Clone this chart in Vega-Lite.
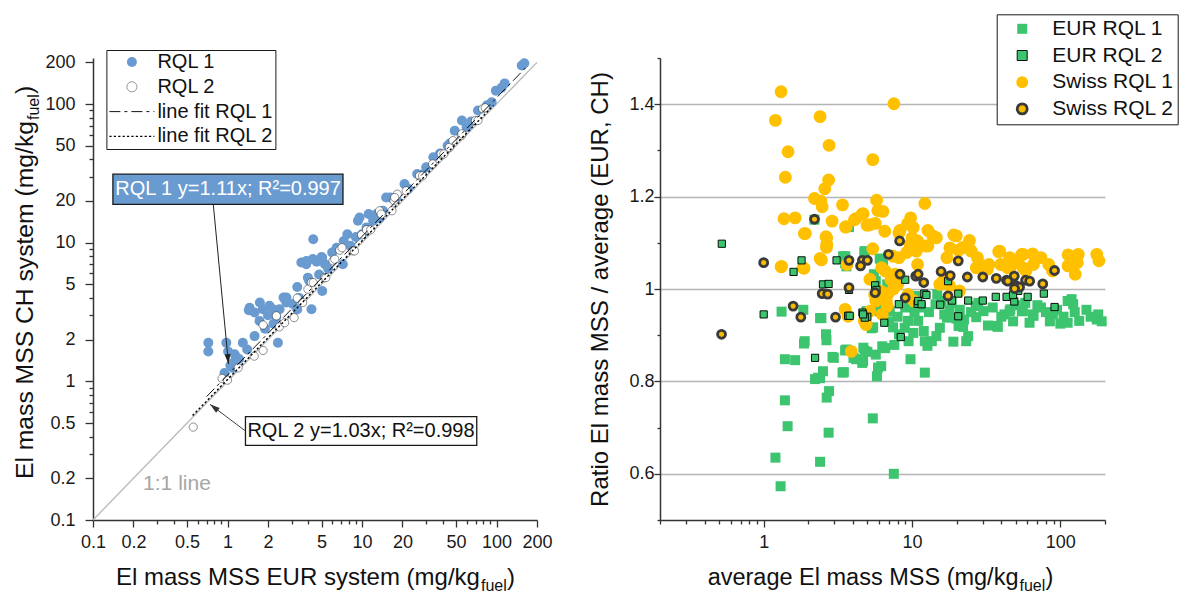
{
  "$schema": "https://vega.github.io/schema/vega-lite/v6.json",
  "autosize": {"type": "pad"},
  "padding": {"left": 13, "top": 13, "right": 0, "bottom": 0},
  "config": {
    "font": "Liberation Sans",
    "view": {"stroke": null},
    "axis": {
      "domainColor": "#333333", "domainWidth": 1.5,
      "tickColor": "#333333", "tickWidth": 1.3,
      "labelColor": "#1a1a1a", "labelFontSize": 18, "labelFont": "Liberation Sans",
      "titleFont": "Liberation Sans", "titleFontWeight": "normal", "titleColor": "#111111", "titleFontSize": 24,
      "labelFlush": false, "labelOverlap": false, "grid": false, "format": "~g"
    },
    "legend": {"labelFont": "Liberation Sans", "labelColor": "#111111", "symbolSize": 100},
    "text": {"font": "Liberation Sans"}
  },
  "datasets": {
    "left_pts": [
      {"x":0.72,"y":1.90,"series":"RQL 1"},{"x":0.72,"y":1.64,"series":"RQL 1"},{"x":0.98,"y":1.90,"series":"RQL 1"},{"x":1.01,"y":1.64,"series":"RQL 1"},
      {"x":1.13,"y":1.57,"series":"RQL 1"},{"x":1.16,"y":1.50,"series":"RQL 1"},{"x":1.30,"y":1.90,"series":"RQL 1"},{"x":1.59,"y":2.12,"series":"RQL 1"},
      {"x":1.73,"y":2.73,"series":"RQL 1"},{"x":2.37,"y":1.90,"series":"RQL 1"},{"x":1.05,"y":1.30,"series":"RQL 1"},{"x":1.12,"y":1.38,"series":"RQL 1"},
      {"x":1.22,"y":1.45,"series":"RQL 1"},{"x":1.40,"y":1.70,"series":"RQL 1"},{"x":0.95,"y":1.15,"series":"RQL 1"},{"x":1.10,"y":1.25,"series":"RQL 1"},
      {"x":1.44,"y":3.26,"series":"RQL 1"},{"x":1.46,"y":3.39,"series":"RQL 1"},{"x":1.59,"y":3.14,"series":"RQL 1"},{"x":1.74,"y":3.70,"series":"RQL 1"},
      {"x":1.83,"y":3.31,"series":"RQL 1"},{"x":2.05,"y":3.51,"series":"RQL 1"},{"x":2.20,"y":3.30,"series":"RQL 1"},{"x":2.44,"y":3.31,"series":"RQL 1"},
      {"x":2.74,"y":3.70,"series":"RQL 1"},{"x":3.06,"y":3.61,"series":"RQL 1"},{"x":2.61,"y":4.02,"series":"RQL 1"},{"x":2.74,"y":4.02,"series":"RQL 1"},
      {"x":2.00,"y":3.00,"series":"RQL 1"},{"x":2.30,"y":2.90,"series":"RQL 1"},{"x":1.90,"y":2.40,"series":"RQL 1"},{"x":2.20,"y":2.60,"series":"RQL 1"},
      {"x":3.30,"y":3.30,"series":"RQL 1"},{"x":4.21,"y":3.31,"series":"RQL 1"},{"x":3.40,"y":4.00,"series":"RQL 1"},{"x":5.06,"y":4.49,"series":"RQL 1"},
      {"x":3.54,"y":7.20,"series":"RQL 1"},{"x":3.86,"y":7.38,"series":"RQL 1"},{"x":4.31,"y":7.62,"series":"RQL 1"},{"x":4.60,"y":7.30,"series":"RQL 1"},
      {"x":5.00,"y":7.90,"series":"RQL 1"},{"x":5.30,"y":7.00,"series":"RQL 1"},{"x":7.20,"y":7.00,"series":"RQL 1"},{"x":4.05,"y":5.31,"series":"RQL 1"},
      {"x":4.80,"y":5.90,"series":"RQL 1"},{"x":4.34,"y":10.6,"series":"RQL 1"},{"x":3.85,"y":7.00,"series":"RQL 1"},{"x":3.96,"y":5.60,"series":"RQL 1"},
      {"x":5.06,"y":7.80,"series":"RQL 1"},{"x":6.47,"y":9.20,"series":"RQL 1"},{"x":7.31,"y":10.3,"series":"RQL 1"},{"x":7.78,"y":11.5,"series":"RQL 1"},
      {"x":5.60,"y":6.50,"series":"RQL 1"},{"x":6.00,"y":8.50,"series":"RQL 1"},{"x":3.30,"y":4.80,"series":"RQL 1"},
      {"x":9.60,"y":15.2,"series":"RQL 1"},{"x":10.8,"y":12.9,"series":"RQL 1"},{"x":12.1,"y":14.4,"series":"RQL 1"},{"x":12.8,"y":16.1,"series":"RQL 1"},
      {"x":14.3,"y":17.0,"series":"RQL 1"},{"x":15.1,"y":21.2,"series":"RQL 1"},{"x":11.2,"y":16.1,"series":"RQL 1"},{"x":9.33,"y":14.4,"series":"RQL 1"},
      {"x":9.00,"y":11.0,"series":"RQL 1"},{"x":10.0,"y":11.5,"series":"RQL 1"},{"x":8.20,"y":9.50,"series":"RQL 1"},{"x":13.5,"y":15.0,"series":"RQL 1"},
      {"x":16.2,"y":21.2,"series":"RQL 1"},{"x":18.0,"y":21.0,"series":"RQL 1"},{"x":20.7,"y":26.5,"series":"RQL 1"},{"x":22.0,"y":24.5,"series":"RQL 1"},
      {"x":25.7,"y":31.3,"series":"RQL 1"},{"x":28.0,"y":31.0,"series":"RQL 1"},{"x":33.9,"y":41.3,"series":"RQL 1"},{"x":30.0,"y":35.0,"series":"RQL 1"},
      {"x":38.0,"y":44.0,"series":"RQL 1"},{"x":43.3,"y":50.1,"series":"RQL 1"},{"x":48.9,"y":64.3,"series":"RQL 1"},{"x":45.0,"y":52.0,"series":"RQL 1"},
      {"x":55.3,"y":76.1,"series":"RQL 1"},{"x":60.0,"y":68.0,"series":"RQL 1"},{"x":72.8,"y":89.8,"series":"RQL 1"},{"x":65.0,"y":75.0,"series":"RQL 1"},
      {"x":99.0,"y":125,"series":"RQL 1"},{"x":109,"y":131,"series":"RQL 1"},{"x":115,"y":141,"series":"RQL 1"},{"x":154,"y":190,"series":"RQL 1"},
      {"x":161,"y":197,"series":"RQL 1"},{"x":85.0,"y":98.0,"series":"RQL 1"},{"x":92.0,"y":103,"series":"RQL 1"},
      {"x":0.556,"y":0.468,"series":"RQL 2"},{"x":0.91,"y":1.05,"series":"RQL 2"},{"x":1.58,"y":1.52,"series":"RQL 2"},{"x":1.84,"y":1.67,"series":"RQL 2"},
      {"x":1.84,"y":2.55,"series":"RQL 2"},{"x":2.43,"y":2.47,"series":"RQL 2"},{"x":2.66,"y":2.65,"series":"RQL 2"},{"x":3.13,"y":2.88,"series":"RQL 2"},
      {"x":3.30,"y":3.98,"series":"RQL 2"},{"x":3.62,"y":3.70,"series":"RQL 2"},{"x":2.31,"y":2.97,"series":"RQL 2"},{"x":3.96,"y":4.62,"series":"RQL 2"},
      {"x":4.20,"y":5.16,"series":"RQL 2"},{"x":5.27,"y":5.60,"series":"RQL 2"},{"x":4.34,"y":5.16,"series":"RQL 2"},{"x":6.08,"y":7.40,"series":"RQL 2"},
      {"x":6.27,"y":7.60,"series":"RQL 2"},{"x":6.83,"y":8.83,"series":"RQL 2"},{"x":7.10,"y":9.20,"series":"RQL 2"},{"x":8.55,"y":8.73,"series":"RQL 2"},
      {"x":8.79,"y":8.73,"series":"RQL 2"},{"x":9.93,"y":11.4,"series":"RQL 2"},{"x":10.8,"y":12.4,"series":"RQL 2"},{"x":11.6,"y":12.4,"series":"RQL 2"},
      {"x":13.5,"y":17.0,"series":"RQL 2"},{"x":13.9,"y":16.1,"series":"RQL 2"},{"x":16.7,"y":17.0,"series":"RQL 2"},{"x":17.3,"y":20.1,"series":"RQL 2"},
      {"x":18.3,"y":22.4,"series":"RQL 2"},{"x":17.5,"y":21.2,"series":"RQL 2"},{"x":21.3,"y":23.7,"series":"RQL 2"},{"x":26.8,"y":30.4,"series":"RQL 2"},
      {"x":28.2,"y":30.4,"series":"RQL 2"},{"x":33.5,"y":37.0,"series":"RQL 2"},{"x":38.8,"y":43.7,"series":"RQL 2"},{"x":40.6,"y":43.7,"series":"RQL 2"},
      {"x":44.6,"y":48.7,"series":"RQL 2"},{"x":47.4,"y":54.5,"series":"RQL 2"},{"x":54.7,"y":59.2,"series":"RQL 2"},{"x":55.3,"y":61.0,"series":"RQL 2"},
      {"x":69.8,"y":76.1,"series":"RQL 2"},{"x":72.8,"y":76.1,"series":"RQL 2"},{"x":79.0,"y":92.5,"series":"RQL 2"},{"x":82.4,"y":94.0,"series":"RQL 2"},
      {"x":5.38,"y":5.60,"series":"RQL 2"},{"x":1.20,"y":1.25,"series":"RQL 2"},{"x":1.00,"y":1.02,"series":"RQL 2"}
    ],
    "fits": [
      {"x":0.7,"y":0.777,"series":"line fit RQL 1"},{"x":165,"y":183.15,"series":"line fit RQL 1"},
      {"x":0.55,"y":0.5665,"series":"line fit RQL 2"},{"x":95,"y":97.85,"series":"line fit RQL 2"}
    ],
    "ratios": [
      {"avg":1.30,"ratio":0.573,"group":"EUR RQL 1"},{"avg":1.20,"ratio":0.635,"group":"EUR RQL 1"},{"avg":2.40,"ratio":0.626,"group":"EUR RQL 1"},{"avg":7.54,"ratio":0.600,"group":"EUR RQL 1"},
      {"avg":1.45,"ratio":0.703,"group":"EUR RQL 1"},{"avg":1.39,"ratio":0.759,"group":"EUR RQL 1"},{"avg":2.74,"ratio":0.689,"group":"EUR RQL 1"},{"avg":2.66,"ratio":0.765,"group":"EUR RQL 1"},
      {"avg":2.76,"ratio":0.779,"group":"EUR RQL 1"},{"avg":5.44,"ratio":0.720,"group":"EUR RQL 1"},{"avg":2.22,"ratio":0.805,"group":"EUR RQL 1"},{"avg":2.40,"ratio":0.807,"group":"EUR RQL 1"},
      {"avg":2.51,"ratio":0.822,"group":"EUR RQL 1"},{"avg":3.40,"ratio":0.819,"group":"EUR RQL 1"},{"avg":1.39,"ratio":0.848,"group":"EUR RQL 1"},{"avg":1.63,"ratio":0.846,"group":"EUR RQL 1"},
      {"avg":1.87,"ratio":0.882,"group":"EUR RQL 1"},{"avg":2.91,"ratio":0.853,"group":"EUR RQL 1"},{"avg":1.32,"ratio":0.951,"group":"EUR RQL 1"},{"avg":2.40,"ratio":0.937,"group":"EUR RQL 1"},
      {"avg":2.63,"ratio":0.902,"group":"EUR RQL 1"},{"avg":2.65,"ratio":0.889,"group":"EUR RQL 1"},{"avg":3.54,"ratio":0.867,"group":"EUR RQL 1"},{"avg":4.03,"ratio":0.851,"group":"EUR RQL 1"},
      {"avg":4.62,"ratio":0.840,"group":"EUR RQL 1"},{"avg":5.0,"ratio":0.864,"group":"EUR RQL 1"},{"avg":5.7,"ratio":0.858,"group":"EUR RQL 1"},{"avg":5.9,"ratio":0.830,"group":"EUR RQL 1"},
      {"avg":6.2,"ratio":0.833,"group":"EUR RQL 1"},{"avg":5.8,"ratio":0.811,"group":"EUR RQL 1"},{"avg":6.6,"ratio":0.872,"group":"EUR RQL 1"},{"avg":5.35,"ratio":0.915,"group":"EUR RQL 1"},
      {"avg":8.17,"ratio":0.902,"group":"EUR RQL 1"},{"avg":8.93,"ratio":0.916,"group":"EUR RQL 1"},{"avg":9.48,"ratio":0.887,"group":"EUR RQL 1"},{"avg":9.77,"ratio":0.848,"group":"EUR RQL 1"},
      {"avg":11.0,"ratio":0.931,"group":"EUR RQL 1"},{"avg":10.4,"ratio":0.952,"group":"EUR RQL 1"},{"avg":12.0,"ratio":0.909,"group":"EUR RQL 1"},{"avg":12.2,"ratio":0.819,"group":"EUR RQL 1"},
      {"avg":12.7,"ratio":0.877,"group":"EUR RQL 1"},{"avg":13.6,"ratio":0.887,"group":"EUR RQL 1"},{"avg":14.4,"ratio":0.967,"group":"EUR RQL 1"},{"avg":15.8,"ratio":0.974,"group":"EUR RQL 1"},
      {"avg":17.2,"ratio":0.938,"group":"EUR RQL 1"},{"avg":19.0,"ratio":0.886,"group":"EUR RQL 1"},{"avg":23.9,"ratio":0.898,"group":"EUR RQL 1"},{"avg":20.6,"ratio":0.920,"group":"EUR RQL 1"},
      {"avg":22.4,"ratio":0.934,"group":"EUR RQL 1"},{"avg":26.9,"ratio":0.963,"group":"EUR RQL 1"},{"avg":30.3,"ratio":0.952,"group":"EUR RQL 1"},{"avg":37.3,"ratio":0.920,"group":"EUR RQL 1"},
      {"avg":46,"ratio":0.956,"group":"EUR RQL 1"},{"avg":55,"ratio":0.952,"group":"EUR RQL 1"},{"avg":66,"ratio":0.942,"group":"EUR RQL 1"},{"avg":74,"ratio":0.960,"group":"EUR RQL 1"},
      {"avg":89,"ratio":0.945,"group":"EUR RQL 1"},{"avg":62,"ratio":0.927,"group":"EUR RQL 1"},{"avg":112,"ratio":0.974,"group":"EUR RQL 1"},{"avg":122,"ratio":0.967,"group":"EUR RQL 1"},
      {"avg":112,"ratio":0.927,"group":"EUR RQL 1"},{"avg":134,"ratio":0.931,"group":"EUR RQL 1"},{"avg":176,"ratio":0.934,"group":"EUR RQL 1"},{"avg":180,"ratio":0.945,"group":"EUR RQL 1"},
      {"avg":119,"ratio":0.978,"group":"EUR RQL 1"},{"avg":3.76,"ratio":1.134,"group":"EUR RQL 1"},{"avg":4.77,"ratio":1.079,"group":"EUR RQL 1"},{"avg":3.54,"ratio":1.056,"group":"EUR RQL 1"},
      {"avg":3.43,"ratio":1.071,"group":"EUR RQL 1"},{"avg":5.53,"ratio":1.032,"group":"EUR RQL 1"},{"avg":5.7,"ratio":1.017,"group":"EUR RQL 1"},{"avg":6.2,"ratio":1.061,"group":"EUR RQL 1"},
      {"avg":6.8,"ratio":1.010,"group":"EUR RQL 1"},{"avg":6.1,"ratio":0.996,"group":"EUR RQL 1"},{"avg":14.8,"ratio":0.989,"group":"EUR RQL 1"},{"avg":2.2,"ratio":1.15,"group":"EUR RQL 1"},
      {"avg":1.85,"ratio":0.955,"group":"EUR RQL 1"},{"avg":2.45,"ratio":0.937,"group":"EUR RQL 1"},{"avg":1.89,"ratio":0.887,"group":"EUR RQL 1"},{"avg":2.97,"ratio":0.851,"group":"EUR RQL 1"},
      {"avg":2.33,"ratio":0.808,"group":"EUR RQL 1"},{"avg":3.47,"ratio":0.820,"group":"EUR RQL 1"},{"avg":3.61,"ratio":0.869,"group":"EUR RQL 1"},{"avg":4.2,"ratio":0.848,"group":"EUR RQL 1"},
      {"avg":4.68,"ratio":0.844,"group":"EUR RQL 1"},{"avg":4.8,"ratio":0.866,"group":"EUR RQL 1"},{"avg":3.55,"ratio":1.071,"group":"EUR RQL 1"},{"avg":3.61,"ratio":1.049,"group":"EUR RQL 1"},
      {"avg":4.8,"ratio":1.082,"group":"EUR RQL 1"},{"avg":6.06,"ratio":1.066,"group":"EUR RQL 1"},{"avg":6.38,"ratio":1.052,"group":"EUR RQL 1"},{"avg":4.93,"ratio":0.952,"group":"EUR RQL 1"},
      {"avg":6.06,"ratio":0.952,"group":"EUR RQL 1"},{"avg":7.08,"ratio":0.952,"group":"EUR RQL 1"},{"avg":5.47,"ratio":0.917,"group":"EUR RQL 1"},{"avg":7.45,"ratio":0.917,"group":"EUR RQL 1"},
      {"avg":9.4,"ratio":0.931,"group":"EUR RQL 1"},{"avg":10.2,"ratio":0.905,"group":"EUR RQL 1"},{"avg":12.2,"ratio":0.887,"group":"EUR RQL 1"},{"avg":14.6,"ratio":0.898,"group":"EUR RQL 1"},
      {"avg":15.4,"ratio":0.916,"group":"EUR RQL 1"},{"avg":17.9,"ratio":0.954,"group":"EUR RQL 1"},{"avg":19.9,"ratio":0.936,"group":"EUR RQL 1"},{"avg":22.1,"ratio":0.918,"group":"EUR RQL 1"},
      {"avg":23.2,"ratio":0.887,"group":"EUR RQL 1"},{"avg":27.1,"ratio":0.939,"group":"EUR RQL 1"},{"avg":32.5,"ratio":0.921,"group":"EUR RQL 1"},{"avg":37.9,"ratio":0.918,"group":"EUR RQL 1"},
      {"avg":45.5,"ratio":0.952,"group":"EUR RQL 1"},{"avg":55.9,"ratio":0.952,"group":"EUR RQL 1"},{"avg":65.3,"ratio":0.945,"group":"EUR RQL 1"},{"avg":4.7,"ratio":0.873,"group":"EUR RQL 1"},
      {"avg":6.3,"ratio":0.876,"group":"EUR RQL 1"},{"avg":7.6,"ratio":0.879,"group":"EUR RQL 1"},{"avg":28,"ratio":0.97,"group":"EUR RQL 1"},{"avg":35,"ratio":0.96,"group":"EUR RQL 1"},
      {"avg":42,"ratio":0.945,"group":"EUR RQL 1"},{"avg":50,"ratio":0.965,"group":"EUR RQL 1"},{"avg":58,"ratio":0.97,"group":"EUR RQL 1"},{"avg":70,"ratio":0.965,"group":"EUR RQL 1"},
      {"avg":80,"ratio":0.95,"group":"EUR RQL 1"},{"avg":95,"ratio":0.955,"group":"EUR RQL 1"},{"avg":105,"ratio":0.94,"group":"EUR RQL 1"},{"avg":125,"ratio":0.95,"group":"EUR RQL 1"},
      {"avg":150,"ratio":0.955,"group":"EUR RQL 1"},{"avg":160,"ratio":0.94,"group":"EUR RQL 1"},{"avg":190,"ratio":0.93,"group":"EUR RQL 1"},{"avg":40,"ratio":0.94,"group":"EUR RQL 1"},
      {"avg":48,"ratio":0.93,"group":"EUR RQL 1"},{"avg":85,"ratio":0.93,"group":"EUR RQL 1"},{"avg":100,"ratio":0.925,"group":"EUR RQL 1"},{"avg":9,"ratio":0.96,"group":"EUR RQL 1"},
      {"avg":11.5,"ratio":0.96,"group":"EUR RQL 1"},{"avg":8,"ratio":0.94,"group":"EUR RQL 1"},{"avg":7,"ratio":0.93,"group":"EUR RQL 1"},{"avg":6.5,"ratio":0.97,"group":"EUR RQL 1"},
      {"avg":10.5,"ratio":0.985,"group":"EUR RQL 1"},{"avg":13,"ratio":0.95,"group":"EUR RQL 1"},{"avg":16.5,"ratio":0.945,"group":"EUR RQL 1"},{"avg":18.5,"ratio":0.97,"group":"EUR RQL 1"},
      {"avg":21,"ratio":0.955,"group":"EUR RQL 1"},{"avg":25,"ratio":0.95,"group":"EUR RQL 1"},

      {"avg":1.31,"ratio":1.427,"group":"Swiss RQL 1"},{"avg":1.20,"ratio":1.365,"group":"Swiss RQL 1"},{"avg":2.40,"ratio":1.373,"group":"Swiss RQL 1"},{"avg":1.46,"ratio":1.297,"group":"Swiss RQL 1"},
      {"avg":2.76,"ratio":1.311,"group":"Swiss RQL 1"},{"avg":7.55,"ratio":1.401,"group":"Swiss RQL 1"},{"avg":5.44,"ratio":1.280,"group":"Swiss RQL 1"},{"avg":1.40,"ratio":1.242,"group":"Swiss RQL 1"},
      {"avg":2.74,"ratio":1.236,"group":"Swiss RQL 1"},{"avg":2.58,"ratio":1.217,"group":"Swiss RQL 1"},{"avg":2.20,"ratio":1.196,"group":"Swiss RQL 1"},{"avg":2.43,"ratio":1.19,"group":"Swiss RQL 1"},
      {"avg":2.48,"ratio":1.178,"group":"Swiss RQL 1"},{"avg":5.77,"ratio":1.192,"group":"Swiss RQL 1"},{"avg":5.88,"ratio":1.170,"group":"Swiss RQL 1"},{"avg":6.36,"ratio":1.168,"group":"Swiss RQL 1"},
      {"avg":12.2,"ratio":1.185,"group":"Swiss RQL 1"},{"avg":1.37,"ratio":1.152,"group":"Swiss RQL 1"},{"avg":1.63,"ratio":1.154,"group":"Swiss RQL 1"},{"avg":3.40,"ratio":1.182,"group":"Swiss RQL 1"},
      {"avg":2.89,"ratio":1.147,"group":"Swiss RQL 1"},{"avg":1.88,"ratio":1.120,"group":"Swiss RQL 1"},{"avg":2.66,"ratio":1.111,"group":"Swiss RQL 1"},{"avg":2.66,"ratio":1.097,"group":"Swiss RQL 1"},
      {"avg":3.56,"ratio":1.134,"group":"Swiss RQL 1"},{"avg":4.09,"ratio":1.150,"group":"Swiss RQL 1"},{"avg":4.61,"ratio":1.162,"group":"Swiss RQL 1"},{"avg":4.98,"ratio":1.138,"group":"Swiss RQL 1"},
      {"avg":5.65,"ratio":1.142,"group":"Swiss RQL 1"},{"avg":6.55,"ratio":1.125,"group":"Swiss RQL 1"},{"avg":5.44,"ratio":1.087,"group":"Swiss RQL 1"},{"avg":9.79,"ratio":1.154,"group":"Swiss RQL 1"},
      {"avg":9.32,"ratio":1.141,"group":"Swiss RQL 1"},{"avg":8.17,"ratio":1.121,"group":"Swiss RQL 1"},{"avg":10.0,"ratio":1.111,"group":"Swiss RQL 1"},{"avg":9.79,"ratio":1.089,"group":"Swiss RQL 1"},
      {"avg":10.9,"ratio":1.104,"group":"Swiss RQL 1"},{"avg":12.4,"ratio":1.093,"group":"Swiss RQL 1"},{"avg":12.8,"ratio":1.127,"group":"Swiss RQL 1"},{"avg":13.8,"ratio":1.115,"group":"Swiss RQL 1"},
      {"avg":19.1,"ratio":1.117,"group":"Swiss RQL 1"},{"avg":18.0,"ratio":1.089,"group":"Swiss RQL 1"},{"avg":20.6,"ratio":1.084,"group":"Swiss RQL 1"},{"avg":24.4,"ratio":1.105,"group":"Swiss RQL 1"},
      {"avg":24.4,"ratio":1.086,"group":"Swiss RQL 1"},{"avg":17.2,"ratio":1.068,"group":"Swiss RQL 1"},{"avg":38.4,"ratio":1.081,"group":"Swiss RQL 1"},{"avg":55.0,"ratio":1.075,"group":"Swiss RQL 1"},
      {"avg":65.1,"ratio":1.076,"group":"Swiss RQL 1"},{"avg":112.7,"ratio":1.074,"group":"Swiss RQL 1"},{"avg":132,"ratio":1.075,"group":"Swiss RQL 1"},{"avg":176,"ratio":1.075,"group":"Swiss RQL 1"},
      {"avg":182,"ratio":1.061,"group":"Swiss RQL 1"},{"avg":130,"ratio":1.057,"group":"Swiss RQL 1"},{"avg":112.7,"ratio":1.050,"group":"Swiss RQL 1"},{"avg":126,"ratio":1.032,"group":"Swiss RQL 1"},
      {"avg":29.4,"ratio":1.050,"group":"Swiss RQL 1"},{"avg":39.6,"ratio":1.053,"group":"Swiss RQL 1"},{"avg":46.0,"ratio":1.046,"group":"Swiss RQL 1"},{"avg":65.8,"ratio":1.053,"group":"Swiss RQL 1"},
      {"avg":83.5,"ratio":1.053,"group":"Swiss RQL 1"},{"avg":51.7,"ratio":1.064,"group":"Swiss RQL 1"},{"avg":74.0,"ratio":1.068,"group":"Swiss RQL 1"},{"avg":1.31,"ratio":1.048,"group":"Swiss RQL 1"},
      {"avg":1.84,"ratio":1.046,"group":"Swiss RQL 1"},{"avg":2.40,"ratio":1.066,"group":"Swiss RQL 1"},{"avg":3.65,"ratio":1.053,"group":"Swiss RQL 1"},{"avg":6.24,"ratio":1.046,"group":"Swiss RQL 1"},
      {"avg":8.17,"ratio":1.068,"group":"Swiss RQL 1"},{"avg":27.6,"ratio":1.068,"group":"Swiss RQL 1"},{"avg":32.2,"ratio":1.043,"group":"Swiss RQL 1"},{"avg":58.6,"ratio":1.039,"group":"Swiss RQL 1"},
      {"avg":88.6,"ratio":1.039,"group":"Swiss RQL 1"},{"avg":8.3,"ratio":1.127,"group":"Swiss RQL 1"},{"avg":10.2,"ratio":1.133,"group":"Swiss RQL 1"},{"avg":14.6,"ratio":1.111,"group":"Swiss RQL 1"},
      {"avg":19.9,"ratio":1.115,"group":"Swiss RQL 1"},{"avg":22.0,"ratio":1.090,"group":"Swiss RQL 1"},{"avg":25.1,"ratio":1.082,"group":"Swiss RQL 1"},{"avg":39.0,"ratio":1.082,"group":"Swiss RQL 1"},
      {"avg":45.5,"ratio":1.068,"group":"Swiss RQL 1"},{"avg":56,"ratio":1.075,"group":"Swiss RQL 1"},{"avg":46.7,"ratio":1.053,"group":"Swiss RQL 1"},{"avg":30.1,"ratio":1.050,"group":"Swiss RQL 1"},
      {"avg":27.1,"ratio":1.046,"group":"Swiss RQL 1"},{"avg":56,"ratio":1.046,"group":"Swiss RQL 1"},{"avg":9.7,"ratio":1.097,"group":"Swiss RQL 1"},{"avg":10.7,"ratio":1.082,"group":"Swiss RQL 1"},
      {"avg":9.2,"ratio":1.079,"group":"Swiss RQL 1"},{"avg":12.8,"ratio":1.093,"group":"Swiss RQL 1"},{"avg":7.45,"ratio":1.071,"group":"Swiss RQL 1"},{"avg":6.6,"ratio":1.039,"group":"Swiss RQL 1"},
      {"avg":7.7,"ratio":1.032,"group":"Swiss RQL 1"},{"avg":5.2,"ratio":1.021,"group":"Swiss RQL 1"},{"avg":5.6,"ratio":0.988,"group":"Swiss RQL 1"},{"avg":6.2,"ratio":0.995,"group":"Swiss RQL 1"},
      {"avg":6.7,"ratio":0.974,"group":"Swiss RQL 1"},{"avg":5.2,"ratio":0.952,"group":"Swiss RQL 1"},{"avg":4.9,"ratio":0.924,"group":"Swiss RQL 1"},{"avg":10.9,"ratio":1.053,"group":"Swiss RQL 1"},
      {"avg":10.3,"ratio":0.974,"group":"Swiss RQL 1"},{"avg":9.4,"ratio":0.988,"group":"Swiss RQL 1"},{"avg":16.2,"ratio":1.017,"group":"Swiss RQL 1"},{"avg":15.4,"ratio":1.010,"group":"Swiss RQL 1"},
      {"avg":17.9,"ratio":1.007,"group":"Swiss RQL 1"},{"avg":20.9,"ratio":0.996,"group":"Swiss RQL 1"},{"avg":33,"ratio":1.053,"group":"Swiss RQL 1"},{"avg":44,"ratio":1.046,"group":"Swiss RQL 1"},
      {"avg":1.32,"ratio":1.049,"group":"Swiss RQL 1"},{"avg":2.45,"ratio":1.063,"group":"Swiss RQL 1"},{"avg":1.87,"ratio":1.045,"group":"Swiss RQL 1"},{"avg":3.9,"ratio":0.865,"group":"Swiss RQL 1"},
      {"avg":2.65,"ratio":1.09,"group":"Swiss RQL 1"},{"avg":4.18,"ratio":1.152,"group":"Swiss RQL 1"},{"avg":4.68,"ratio":1.163,"group":"Swiss RQL 1"},{"avg":3.6,"ratio":1.135,"group":"Swiss RQL 1"},
      {"avg":5.2,"ratio":1.139,"group":"Swiss RQL 1"},{"avg":1.91,"ratio":1.120,"group":"Swiss RQL 1"},{"avg":2.63,"ratio":1.113,"group":"Swiss RQL 1"},{"avg":3.54,"ratio":0.956,"group":"Swiss RQL 1"},
      {"avg":3.71,"ratio":0.941,"group":"Swiss RQL 1"},{"avg":4.77,"ratio":0.931,"group":"Swiss RQL 1"},{"avg":4.9,"ratio":0.923,"group":"Swiss RQL 1"},{"avg":5.7,"ratio":0.974,"group":"Swiss RQL 1"},
      {"avg":6.4,"ratio":0.981,"group":"Swiss RQL 1"},{"avg":6.8,"ratio":0.963,"group":"Swiss RQL 1"},{"avg":6.3,"ratio":0.945,"group":"Swiss RQL 1"},{"avg":7.5,"ratio":1.0,"group":"Swiss RQL 1"},
      {"avg":8.0,"ratio":1.01,"group":"Swiss RQL 1"},{"avg":6.9,"ratio":0.99,"group":"Swiss RQL 1"},{"avg":7.2,"ratio":1.02,"group":"Swiss RQL 1"},

      {"avg":0.522,"ratio":1.098,"group":"EUR RQL 2"},{"avg":1.59,"ratio":1.037,"group":"EUR RQL 2"},{"avg":1.80,"ratio":1.062,"group":"EUR RQL 2"},{"avg":3.10,"ratio":1.062,"group":"EUR RQL 2"},
      {"avg":2.51,"ratio":1.010,"group":"EUR RQL 2"},{"avg":2.74,"ratio":1.011,"group":"EUR RQL 2"},{"avg":3.76,"ratio":0.998,"group":"EUR RQL 2"},{"avg":5.64,"ratio":1.008,"group":"EUR RQL 2"},
      {"avg":9.0,"ratio":1.020,"group":"EUR RQL 2"},{"avg":17.5,"ratio":1.017,"group":"EUR RQL 2"},{"avg":20.5,"ratio":0.990,"group":"EUR RQL 2"},{"avg":1.0,"ratio":0.945,"group":"EUR RQL 2"},
      {"avg":2.22,"ratio":0.851,"group":"EUR RQL 2"},{"avg":3.71,"ratio":0.942,"group":"EUR RQL 2"},{"avg":4.63,"ratio":0.949,"group":"EUR RQL 2"},{"avg":5.0,"ratio":0.940,"group":"EUR RQL 2"},
      {"avg":6.5,"ratio":0.927,"group":"EUR RQL 2"},{"avg":8.4,"ratio":0.896,"group":"EUR RQL 2"},{"avg":8.15,"ratio":0.967,"group":"EUR RQL 2"},{"avg":10.9,"ratio":0.968,"group":"EUR RQL 2"},
      {"avg":11.0,"ratio":0.974,"group":"EUR RQL 2"},{"avg":12.1,"ratio":0.990,"group":"EUR RQL 2"},{"avg":15.5,"ratio":0.966,"group":"EUR RQL 2"},{"avg":18.6,"ratio":0.975,"group":"EUR RQL 2"},
      {"avg":20.5,"ratio":0.941,"group":"EUR RQL 2"},{"avg":23.9,"ratio":0.975,"group":"EUR RQL 2"},{"avg":30.0,"ratio":0.975,"group":"EUR RQL 2"},{"avg":36.7,"ratio":0.983,"group":"EUR RQL 2"},
      {"avg":43.4,"ratio":0.983,"group":"EUR RQL 2"},{"avg":48.9,"ratio":0.973,"group":"EUR RQL 2"},{"avg":60.2,"ratio":0.983,"group":"EUR RQL 2"},{"avg":77.4,"ratio":0.990,"group":"EUR RQL 2"},
      {"avg":91.4,"ratio":0.961,"group":"EUR RQL 2"},{"avg":3.8,"ratio":0.942,"group":"EUR RQL 2"},{"avg":4.8,"ratio":0.938,"group":"EUR RQL 2"},{"avg":5.76,"ratio":0.998,"group":"EUR RQL 2"},
      {"avg":11.6,"ratio":0.967,"group":"EUR RQL 2"},{"avg":12.5,"ratio":0.987,"group":"EUR RQL 2"},{"avg":4.68,"ratio":0.945,"group":"EUR RQL 2"},{"avg":52,"ratio":0.996,"group":"EUR RQL 2"},
      {"avg":48,"ratio":0.987,"group":"EUR RQL 2"},

      {"avg":1.0,"ratio":1.057,"group":"Swiss RQL 2"},{"avg":2.2,"ratio":1.151,"group":"Swiss RQL 2"},{"avg":3.76,"ratio":1.062,"group":"Swiss RQL 2"},{"avg":4.63,"ratio":1.062,"group":"Swiss RQL 2"},
      {"avg":5.0,"ratio":1.062,"group":"Swiss RQL 2"},{"avg":4.5,"ratio":1.050,"group":"Swiss RQL 2"},{"avg":2.48,"ratio":0.990,"group":"Swiss RQL 2"},{"avg":2.7,"ratio":0.989,"group":"Swiss RQL 2"},
      {"avg":3.76,"ratio":1.003,"group":"Swiss RQL 2"},{"avg":5.64,"ratio":0.992,"group":"Swiss RQL 2"},{"avg":8.25,"ratio":1.104,"group":"Swiss RQL 2"},{"avg":6.94,"ratio":1.075,"group":"Swiss RQL 2"},
      {"avg":8.3,"ratio":1.032,"group":"Swiss RQL 2"},{"avg":10.6,"ratio":1.028,"group":"Swiss RQL 2"},{"avg":11.0,"ratio":1.032,"group":"Swiss RQL 2"},{"avg":12.0,"ratio":1.014,"group":"Swiss RQL 2"},
      {"avg":15.7,"ratio":1.038,"group":"Swiss RQL 2"},{"avg":18.1,"ratio":1.029,"group":"Swiss RQL 2"},{"avg":20.5,"ratio":1.061,"group":"Swiss RQL 2"},{"avg":23.6,"ratio":1.026,"group":"Swiss RQL 2"},
      {"avg":30.0,"ratio":1.026,"group":"Swiss RQL 2"},{"avg":37,"ratio":1.023,"group":"Swiss RQL 2"},{"avg":43.3,"ratio":1.019,"group":"Swiss RQL 2"},{"avg":48.9,"ratio":1.028,"group":"Swiss RQL 2"},
      {"avg":50.3,"ratio":1.007,"group":"Swiss RQL 2"},{"avg":58.3,"ratio":1.019,"group":"Swiss RQL 2"},{"avg":76.1,"ratio":1.011,"group":"Swiss RQL 2"},{"avg":91.4,"ratio":1.040,"group":"Swiss RQL 2"},
      {"avg":0.52,"ratio":0.902,"group":"Swiss RQL 2"},{"avg":1.58,"ratio":0.963,"group":"Swiss RQL 2"},{"avg":1.78,"ratio":0.939,"group":"Swiss RQL 2"},{"avg":3.05,"ratio":0.939,"group":"Swiss RQL 2"},
      {"avg":9.0,"ratio":0.981,"group":"Swiss RQL 2"},{"avg":17.5,"ratio":0.985,"group":"Swiss RQL 2"},{"avg":44.3,"ratio":1.017,"group":"Swiss RQL 2"},{"avg":53.1,"ratio":1.004,"group":"Swiss RQL 2"},
      {"avg":49.1,"ratio":1.001,"group":"Swiss RQL 2"},{"avg":62.1,"ratio":1.017,"group":"Swiss RQL 2"}
    ]
  },
  "bounds": "flush",
  "spacing": 123,
  "resolve": {
    "scale": {"fill": "independent", "stroke": "independent", "shape": "independent", "strokeWidth": "independent", "strokeDash": "independent"},
    "legend": {"fill": "independent", "stroke": "independent", "shape": "independent", "strokeWidth": "independent", "strokeDash": "independent"}
  },
  "hconcat": [
    {
      "width": 444,
      "height": 462,
      "layer": [
        {
          "data": {"values": [{"x": 0.1, "y": 0.1}, {"x": 200, "y": 200}]},
          "mark": {"type": "line", "color": "#b8b8b8", "strokeWidth": 1.3},
          "encoding": {
            "x": {
              "field": "x", "type": "quantitative",
              "scale": {"type": "log", "domain": [0.1, 200], "nice": false},
              "axis": {
                "title": null,
                "values": [0.1,0.2,0.3,0.4,0.5,0.6,0.7,0.8,0.9,1,2,3,4,5,6,7,8,9,10,20,30,40,50,60,70,80,90,100,200],
                "labelExpr": "indexof([0.1,0.2,0.5,1,2,5,10,20,50,100,200], datum.value) >= 0 ? datum.label : ''",
                "tickSize": {"condition": {"test": "indexof([0.1,0.2,0.5,1,2,5,10,20,50,100,200], datum.value) >= 0", "value": 7}, "value": 4},
                "labelPadding": 6
              }
            },
            "y": {
              "field": "y", "type": "quantitative",
              "scale": {"type": "log", "domain": [0.1, 215], "nice": false},
              "axis": {
                "title": null,
                "values": [0.1,0.2,0.3,0.4,0.5,0.6,0.7,0.8,0.9,1,2,3,4,5,6,7,8,9,10,20,30,40,50,60,70,80,90,100,200],
                "labelExpr": "indexof([0.1,0.2,0.5,1,2,5,10,20,50,100,200], datum.value) >= 0 ? datum.label : ''",
                "tickSize": {"condition": {"test": "indexof([0.1,0.2,0.5,1,2,5,10,20,50,100,200], datum.value) >= 0", "value": 8}, "value": 4},
                "labelPadding": 10
              }
            }
          }
        },
        {
          "data": {"name": "left_pts"},
          "encoding": {
            "x": {"field": "x", "type": "quantitative", "scale": {"type": "log", "domain": [0.1, 200], "nice": false}},
            "y": {"field": "y", "type": "quantitative", "scale": {"type": "log", "domain": [0.1, 215], "nice": false}},
            "fill": {"field": "series", "type": "nominal",
              "scale": {"domain": ["RQL 1", "RQL 2", "line fit RQL 1", "line fit RQL 2"], "range": ["#6a9bd0", "#ffffff", "transparent", "transparent"]},
              "legend": {"orient": "none", "legendX": 13.4, "legendY": -8, "direction": "vertical", "title": null, "padding": 2, "rowPadding": 4.8, "symbolOffset": 13.5, "labelOffset": 15.5, "labelFontSize": 20, "strokeColor": "#1a1a1a", "fillColor": "#ffffff"}},
            "stroke": {"field": "series", "type": "nominal",
              "scale": {"domain": ["RQL 1", "RQL 2", "line fit RQL 1", "line fit RQL 2"], "range": ["#6a9bd0", "#111111", "#000000", "#000000"]},
              "legend": {"orient": "none", "legendX": 13.4, "legendY": -8, "direction": "vertical", "title": null, "padding": 2, "rowPadding": 4.8, "symbolOffset": 13.5, "labelOffset": 15.5, "labelFontSize": 20, "strokeColor": "#1a1a1a", "fillColor": "#ffffff"}},
            "shape": {"field": "series", "type": "nominal",
              "scale": {"domain": ["RQL 1", "RQL 2", "line fit RQL 1", "line fit RQL 2"], "range": ["circle", "circle", "M-4.5,0H4.5", "M-4.5,0H4.5"]},
              "legend": {"orient": "none", "legendX": 13.4, "legendY": -8, "direction": "vertical", "title": null, "padding": 2, "rowPadding": 4.8, "symbolOffset": 13.5, "labelOffset": 15.5, "labelFontSize": 20, "strokeColor": "#1a1a1a", "fillColor": "#ffffff"}},
            "strokeWidth": {"field": "series", "type": "nominal",
              "scale": {"domain": ["RQL 1", "RQL 2", "line fit RQL 1", "line fit RQL 2"], "range": [0, 1.4, 2.4, 2.6]},
              "legend": {"orient": "none", "legendX": 13.4, "legendY": -8, "direction": "vertical", "title": null, "padding": 2, "rowPadding": 4.8, "symbolOffset": 13.5, "labelOffset": 15.5, "labelFontSize": 20, "strokeColor": "#1a1a1a", "fillColor": "#ffffff"}}
          },
          "layer": [
            {
              "transform": [{"filter": {"field": "series", "equal": "RQL 1"}}],
              "mark": {"type": "point", "filled": true, "opacity": 1, "size": 100}
            },
            {
              "transform": [{"filter": {"field": "series", "equal": "RQL 2"}}],
              "mark": {"type": "point", "filled": true, "opacity": 1, "size": 68}
            }
          ]
        },
        {
          "data": {"name": "fits"},
          "mark": {"type": "line"},
          "encoding": {
            "x": {"field": "x", "type": "quantitative", "scale": {"type": "log", "domain": [0.1, 200], "nice": false}},
            "y": {"field": "y", "type": "quantitative", "scale": {"type": "log", "domain": [0.1, 215], "nice": false}},
            "stroke": {"field": "series", "type": "nominal",
              "scale": {"domain": ["RQL 1", "RQL 2", "line fit RQL 1", "line fit RQL 2"], "range": ["#6a9bd0", "#111111", "#000000", "#000000"]},
              "legend": {"orient": "none", "legendX": 13.4, "legendY": -8, "direction": "vertical", "title": null, "padding": 2, "rowPadding": 4.8, "symbolOffset": 13.5, "labelOffset": 15.5, "labelFontSize": 20, "strokeColor": "#1a1a1a", "fillColor": "#ffffff"}},
            "strokeDash": {"field": "series", "type": "nominal",
              "scale": {"domain": ["RQL 1", "RQL 2", "line fit RQL 1", "line fit RQL 2"], "range": [[1, 0], [1, 0], [11, 4, 3, 4], [2.2, 2.2]]},
              "legend": {"orient": "none", "legendX": 13.4, "legendY": -8, "direction": "vertical", "title": null, "padding": 2, "rowPadding": 4.8, "symbolOffset": 13.5, "labelOffset": 15.5, "labelFontSize": 20, "strokeColor": "#1a1a1a", "fillColor": "#ffffff"}},
            "strokeWidth": {"field": "series", "type": "nominal",
              "scale": {"domain": ["RQL 1", "RQL 2", "line fit RQL 1", "line fit RQL 2"], "range": [0, 1.4, 2.4, 2.6]},
              "legend": {"orient": "none", "legendX": 13.4, "legendY": -8, "direction": "vertical", "title": null, "padding": 2, "rowPadding": 4.8, "symbolOffset": 13.5, "labelOffset": 15.5, "labelFontSize": 20, "strokeColor": "#1a1a1a", "fillColor": "#ffffff"}}
          }
        },
        {
          "data": {"values": [{}]},
          "mark": {"type": "rect", "fill": "#6a9bd0", "stroke": "#1a1a1a", "strokeWidth": 1.3},
          "encoding": {
            "x": {"datum": 0.1406, "type": "quantitative"}, "x2": {"datum": 7.22},
            "y": {"datum": 31.2, "type": "quantitative"}, "y2": {"datum": 18.9}
          }
        },
        {
          "data": {"values": [{}]},
          "mark": {"type": "text", "text": "RQL 1 y=1.11x; R²=0.997", "color": "#ffffff", "fontSize": 20, "align": "center", "baseline": "middle"},
          "encoding": {"x": {"datum": 1.009, "type": "quantitative"}, "y": {"datum": 24.3, "type": "quantitative"}}
        },
        {
          "data": {"values": [{}]},
          "mark": {"type": "rect", "fill": "#ffffff", "stroke": "#1a1a1a", "strokeWidth": 1.3},
          "encoding": {
            "x": {"datum": 1.36, "type": "quantitative"}, "x2": {"datum": 71.3},
            "y": {"datum": 0.556, "type": "quantitative"}, "y2": {"datum": 0.3457}
          }
        },
        {
          "data": {"values": [{}]},
          "mark": {"type": "text", "text": "RQL 2 y=1.03x; R²=0.998", "color": "#111111", "fontSize": 20, "align": "center", "baseline": "middle"},
          "encoding": {"x": {"datum": 9.83, "type": "quantitative"}, "y": {"datum": 0.4385, "type": "quantitative"}}
        },
        {
          "data": {"values": [{}]},
          "mark": {"type": "text", "text": "1:1 line", "color": "#a6a6a6", "fontSize": 21, "align": "center", "baseline": "middle"},
          "encoding": {"x": {"datum": 0.421, "type": "quantitative"}, "y": {"datum": 0.183, "type": "quantitative"}}
        },
        {
          "data": {"values": [{}]},
          "mark": {"type": "rule", "color": "#222222", "strokeWidth": 1},
          "encoding": {
            "x": {"datum": 0.784, "type": "quantitative"}, "y": {"datum": 18.9, "type": "quantitative"},
            "x2": {"datum": 1.017}, "y2": {"datum": 1.334}
          }
        },
        {
          "data": {"values": [{}]},
          "mark": {"type": "rule", "color": "#444444", "strokeWidth": 1},
          "encoding": {
            "x": {"datum": 1.36, "type": "quantitative"}, "y": {"datum": 0.4385, "type": "quantitative"},
            "x2": {"datum": 0.741}, "y2": {"datum": 0.683}
          }
        },
        {
          "data": {"values": [{}]},
          "mark": {"type": "point", "shape": "M0,0L-1,3.3L1,3.3Z", "filled": true, "opacity": 1, "color": "#222222", "size": 36, "angle": 174.5},
          "encoding": {"x": {"datum": 1.017, "type": "quantitative"}, "y": {"datum": 1.334, "type": "quantitative"}}
        },
        {
          "data": {"values": [{}]},
          "mark": {"type": "point", "shape": "M0,0L-1,3.3L1,3.3Z", "filled": true, "opacity": 1, "color": "#333333", "size": 36, "angle": 307},
          "encoding": {"x": {"datum": 0.741, "type": "quantitative"}, "y": {"datum": 0.683, "type": "quantitative"}}
        },
        {
          "data": {"values": [{}]},
          "mark": {"type": "text", "text": "El mass MSS EUR system (mg/kg", "color": "#111111", "fontSize": 24, "align": "right", "baseline": "alphabetic"},
          "encoding": {"x": {"datum": 75.3, "type": "quantitative"}, "y": {"datum": 0.03398, "type": "quantitative"}}
        },
        {
          "data": {"values": [{}]},
          "mark": {"type": "text", "text": "fuel", "color": "#111111", "fontSize": 16, "align": "left", "baseline": "alphabetic", "dx": 1, "dy": 6},
          "encoding": {"x": {"datum": 75.3, "type": "quantitative"}, "y": {"datum": 0.03398, "type": "quantitative"}}
        },
        {
          "data": {"values": [{}]},
          "mark": {"type": "text", "text": ")", "color": "#111111", "fontSize": 24, "align": "left", "baseline": "alphabetic", "dx": 27},
          "encoding": {"x": {"datum": 75.3, "type": "quantitative"}, "y": {"datum": 0.03398, "type": "quantitative"}}
        },
        {
          "data": {"values": [{}]},
          "mark": {"type": "text", "text": "El mass MSS CH system (mg/kg", "color": "#111111", "fontSize": 24.7, "align": "right", "baseline": "alphabetic", "angle": 270},
          "encoding": {"x": {"datum": 0.0361, "type": "quantitative"}, "y": {"datum": 75.5, "type": "quantitative"}}
        },
        {
          "data": {"values": [{}]},
          "mark": {"type": "text", "text": "fuel", "color": "#111111", "fontSize": 16, "align": "left", "baseline": "alphabetic", "angle": 270, "dx": 1, "dy": 6},
          "encoding": {"x": {"datum": 0.0361, "type": "quantitative"}, "y": {"datum": 75.5, "type": "quantitative"}}
        },
        {
          "data": {"values": [{}]},
          "mark": {"type": "text", "text": ")", "color": "#111111", "fontSize": 24.7, "align": "left", "baseline": "alphabetic", "angle": 270, "dx": 27},
          "encoding": {"x": {"datum": 0.0361, "type": "quantitative"}, "y": {"datum": 75.5, "type": "quantitative"}}
        }
      ]
    },
    {
      "width": 445,
      "height": 462,
      "layer": [
        {
          "data": {"name": "ratios"},
          "encoding": {
            "x": {
              "field": "avg", "type": "quantitative",
              "scale": {"type": "log", "domain": [0.2, 200], "nice": false},
              "axis": {
                "title": null,
                "values": [0.2,0.3,0.4,0.5,0.6,0.7,0.8,0.9,1,2,3,4,5,6,7,8,9,10,20,30,40,50,60,70,80,90,100,200],
                "labelExpr": "indexof([1,10,100], datum.value) >= 0 ? datum.label : ''",
                "tickSize": {"condition": {"test": "indexof([1,10,100], datum.value) >= 0", "value": 7}, "value": 4},
                "labelPadding": 6
              }
            },
            "y": {
              "field": "ratio", "type": "quantitative",
              "scale": {"domain": [0.5, 1.5], "nice": false, "zero": false},
              "axis": {
                "title": "Ratio El mass MSS / average (EUR, CH)",
                "titlePadding": 16,
                "values": [0.5,0.6,0.7,0.8,0.9,1,1.1,1.2,1.3,1.4,1.5],
                "labelExpr": "indexof([0.6,0.8,1,1.2,1.4], datum.value) >= 0 ? datum.label : ''",
                "tickSize": {"condition": {"test": "indexof([0.6,0.8,1,1.2,1.4], datum.value) >= 0", "value": 6}, "value": 3},
                "labelPadding": 0,
                "grid": true,
                "gridColor": "#b5b5b5",
                "gridWidth": 1.6,
                "gridOpacity": {"condition": {"test": "indexof([0.6,0.8,1,1.2,1.4], datum.value) >= 0", "value": 1}, "value": 0}
              }
            },
            "fill": {"field": "group", "type": "nominal",
              "scale": {"domain": ["EUR RQL 1", "EUR RQL 2", "Swiss RQL 1", "Swiss RQL 2"], "range": ["#3cc46e", "#3cc46e", "#ffc000", "#f7bb00"]},
              "legend": {"orient": "none", "legendX": 336.7, "legendY": -43.7, "direction": "vertical", "title": null, "padding": 4, "rowPadding": 4.7, "symbolOffset": 11, "labelOffset": 19.6, "labelFontSize": 21, "strokeColor": "#1a1a1a", "fillColor": "#ffffff"}},
            "stroke": {"field": "group", "type": "nominal",
              "scale": {"domain": ["EUR RQL 1", "EUR RQL 2", "Swiss RQL 1", "Swiss RQL 2"], "range": ["#3cc46e", "#000000", "#ffc000", "#3a3a3a"]},
              "legend": {"orient": "none", "legendX": 336.7, "legendY": -43.7, "direction": "vertical", "title": null, "padding": 4, "rowPadding": 4.7, "symbolOffset": 11, "labelOffset": 19.6, "labelFontSize": 21, "strokeColor": "#1a1a1a", "fillColor": "#ffffff"}},
            "shape": {"field": "group", "type": "nominal",
              "scale": {"domain": ["EUR RQL 1", "EUR RQL 2", "Swiss RQL 1", "Swiss RQL 2"], "range": ["square", "square", "circle", "circle"]},
              "legend": {"orient": "none", "legendX": 336.7, "legendY": -43.7, "direction": "vertical", "title": null, "padding": 4, "rowPadding": 4.7, "symbolOffset": 11, "labelOffset": 19.6, "labelFontSize": 21, "strokeColor": "#1a1a1a", "fillColor": "#ffffff"}},
            "strokeWidth": {"field": "group", "type": "nominal",
              "scale": {"domain": ["EUR RQL 1", "EUR RQL 2", "Swiss RQL 1", "Swiss RQL 2"], "range": [0, 2.8, 0, 1.6]},
              "legend": {"orient": "none", "legendX": 336.7, "legendY": -43.7, "direction": "vertical", "title": null, "padding": 4, "rowPadding": 4.7, "symbolOffset": 11, "labelOffset": 19.6, "labelFontSize": 21, "strokeColor": "#1a1a1a", "fillColor": "#ffffff"}}
          },
          "layer": [
            {
              "transform": [{"filter": {"field": "group", "equal": "EUR RQL 1"}}],
              "mark": {"type": "point", "filled": true, "opacity": 1, "size": 100}
            },
            {
              "transform": [{"filter": {"field": "group", "equal": "Swiss RQL 1"}}],
              "mark": {"type": "point", "filled": true, "opacity": 1, "size": 121}
            },
            {
              "transform": [{"filter": {"field": "group", "equal": "EUR RQL 2"}}],
              "mark": {"type": "point", "filled": true, "opacity": 1, "size": 52}
            },
            {
              "transform": [{"filter": {"field": "group", "equal": "Swiss RQL 2"}}],
              "mark": {"type": "point", "filled": true, "opacity": 1, "size": 64}
            }
          ]
        },
        {
          "data": {"values": [{}]},
          "mark": {"type": "text", "text": "average El mass MSS (mg/kg", "color": "#111111", "fontSize": 23.5, "align": "right", "baseline": "alphabetic"},
          "encoding": {"x": {"datum": 52.2, "type": "quantitative"}, "y": {"datum": 0.3593, "type": "quantitative"}}
        },
        {
          "data": {"values": [{}]},
          "mark": {"type": "text", "text": "fuel", "color": "#111111", "fontSize": 16, "align": "left", "baseline": "alphabetic", "dx": 1, "dy": 6},
          "encoding": {"x": {"datum": 52.2, "type": "quantitative"}, "y": {"datum": 0.3593, "type": "quantitative"}}
        },
        {
          "data": {"values": [{}]},
          "mark": {"type": "text", "text": ")", "color": "#111111", "fontSize": 23.5, "align": "left", "baseline": "alphabetic", "dx": 27},
          "encoding": {"x": {"datum": 52.2, "type": "quantitative"}, "y": {"datum": 0.3593, "type": "quantitative"}}
        }
      ]
    }
  ]
}
